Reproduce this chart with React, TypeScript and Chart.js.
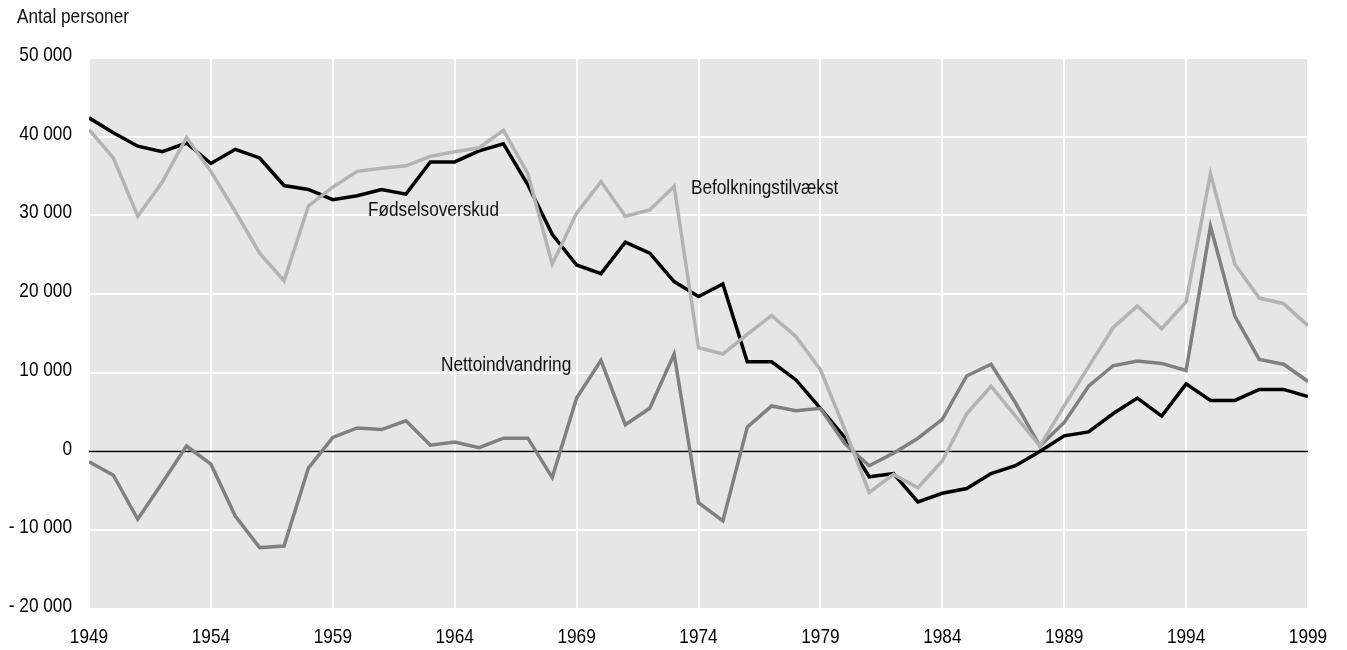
import React, { useEffect, useRef } from "react";
import { Chart, registerables } from "chart.js";

Chart.register(...registerables);

const years = [
  1949, 1950, 1951, 1952, 1953, 1954, 1955, 1956, 1957, 1958,
  1959, 1960, 1961, 1962, 1963, 1964, 1965, 1966, 1967, 1968,
  1969, 1970, 1971, 1972, 1973, 1974, 1975, 1976, 1977, 1978,
  1979, 1980, 1981, 1982, 1983, 1984, 1985, 1986, 1987, 1988,
  1989, 1990, 1991, 1992, 1993, 1994, 1995, 1996, 1997, 1998, 1999,
];

const fodselsoverskud = [
  42400, 40500, 38800, 38100, 39200, 36600, 38400, 37300, 33800, 33300,
  32000, 32500, 33300, 32700, 36800, 36800, 38200, 39100, 33900, 27600,
  23700, 22600, 26600, 25200, 21600, 19700, 21300, 11400, 11400, 9100,
  5500, 1800, -3200, -2800, -6400, -5300, -4700, -2800, -1800, 0,
  2000, 2500, 4800, 6800, 4500, 8600, 6500, 6500, 7900, 7900, 7000,
];

const befolkningstilvaekst = [
  40900, 37300, 29900, 34200, 39900, 35600, 30500, 25200, 21700, 31200,
  33600, 35600, 36000, 36300, 37500, 38100, 38600, 40800, 35300, 23800,
  30300, 34300, 29900, 30700, 33700, 13200, 12400, 14900, 17300, 14600,
  10400, 2800, -5200, -2900, -4600, -1200, 4800, 8300, 4500, 700,
  5800, 10800, 15700, 18500, 15600, 19000, 35300, 23800, 19500, 18800, 16000,
];

const nettoindvandring = [
  -1300, -3000, -8600, -4000, 700, -1600, -8200, -12200, -12000, -2100,
  1800, 3000, 2800, 3900, 800, 1200, 500, 1700, 1700, -3300,
  6800, 11600, 3400, 5500, 12400, -6500, -8800, 3100, 5800, 5200,
  5500, 1000, -1800, -200, 1700, 4100, 9600, 11100, 6200, 700,
  3700, 8300, 10900, 11500, 11200, 10300, 28600, 17200, 11700, 11100, 8900,
];

const yAxisTitle = "Antal personer";

const seriesLabels = [
  { text: "Fødselsoverskud", x: 1960.44, y: 29900 },
  { text: "Befolkningstilvækst", x: 1973.69, y: 32660 },
  { text: "Nettoindvandring", x: 1963.44, y: 10200 },
];

const FONT = "'Liberation Sans', Arial, sans-serif";
const FONT_SIZE = 21;
const SQUEEZE = 0.82;

function fmt(v: number): string {
  const s = Math.abs(v).toString().replace(/\B(?=(\d{3})+(?!\d))/g, " ");
  return v < 0 ? "- " + s : s;
}

function narrowText(ctx: CanvasRenderingContext2D, text: string, x: number, y: number, align: CanvasTextAlign) {
  ctx.save();
  ctx.translate(x, y);
  ctx.scale(SQUEEZE, 1);
  ctx.textAlign = align;
  ctx.textBaseline = "alphabetic";
  ctx.fillText(text, 0, 0);
  ctx.restore();
}

export default function App() {
  const ref = useRef<HTMLCanvasElement | null>(null);

  useEffect(() => {
    if (!ref.current) return;

    const bgPlugin = {
      id: "bg",
      beforeDraw(chart: any) {
        const { ctx, chartArea } = chart;
        ctx.save();
        ctx.fillStyle = "#e6e6e6";
        ctx.fillRect(chartArea.left, chartArea.top, chartArea.right - chartArea.left, chartArea.bottom - chartArea.top);
        ctx.restore();
      },
      beforeDatasetsDraw(chart: any) {
        const { ctx, chartArea, scales } = chart;
        const y0 = scales.y.getPixelForValue(0);
        ctx.save();
        ctx.strokeStyle = "#000";
        ctx.lineWidth = 1.5;
        ctx.beginPath();
        ctx.moveTo(chartArea.left, y0);
        ctx.lineTo(chartArea.right, y0);
        ctx.stroke();
        ctx.restore();
      },
      afterDatasetsDraw(chart: any) {
        const { ctx, scales, chartArea } = chart;
        ctx.save();
        ctx.fillStyle = "#111";
        ctx.font = `${FONT_SIZE}px ${FONT}`;
        for (const l of seriesLabels) {
          narrowText(ctx, l.text, scales.x.getPixelForValue(l.x), scales.y.getPixelForValue(l.y), "left");
        }
        narrowText(ctx, yAxisTitle, 17, 23, "left");
        ctx.fillStyle = "#000";
        for (const t of scales.y.ticks) {
          const py = scales.y.getPixelForValue(t.value);
          narrowText(ctx, fmt(t.value), chartArea.left - 17, py + 3, "right");
        }
        for (const t of scales.x.ticks) {
          const px = scales.x.getPixelForValue(t.value);
          narrowText(ctx, String(t.value), px, chartArea.bottom + 34, "center");
        }
        ctx.restore();
      },
    };

    const toPts = (arr: number[]) => arr.map((v, i) => ({ x: years[i], y: v }));

    const chart = new Chart(ref.current, {
      type: "line",
      data: {
        datasets: [
          {
            label: "Befolkningstilvækst",
            data: toPts(befolkningstilvaekst),
            borderColor: "#b3b3b3",
            borderWidth: 3.5,
            pointRadius: 0,
            tension: 0,
          },
          {
            label: "Nettoindvandring",
            data: toPts(nettoindvandring),
            borderColor: "#808080",
            borderWidth: 3.5,
            pointRadius: 0,
            tension: 0,
          },
          {
            label: "Fødselsoverskud",
            data: toPts(fodselsoverskud),
            borderColor: "#000000",
            borderWidth: 3.5,
            pointRadius: 0,
            tension: 0,
          },
        ],
      },
      options: {
        animation: false,
        responsive: false,
        maintainAspectRatio: false,
        layout: { padding: { left: 0, top: 58, right: 39, bottom: 0 } },
        plugins: {
          legend: { display: false },
          tooltip: { enabled: false },
          title: { display: false },
        },
        scales: {
          x: {
            type: "linear",
            min: 1949,
            max: 1999,
            border: { display: false },
            grid: { color: "#ffffff", lineWidth: 2, drawTicks: false },
            ticks: {
              stepSize: 5,
              display: false,
              callback: (v: any) => String(v),
            },
            afterFit: (s: any) => {
              s.height = 41;
            },
          },
          y: {
            min: -20000,
            max: 50000,
            border: { display: false },
            grid: { color: "#ffffff", lineWidth: 2, drawTicks: false },
            ticks: {
              stepSize: 10000,
              display: false,
              callback: (v: any) => fmt(Number(v)),
            },
            afterFit: (s: any) => {
              s.width = 89;
            },
          },
        },
      },
      plugins: [bgPlugin],
    });

    return () => chart.destroy();
  }, []);

  return (
    <div style={{ position: "absolute", left: 0, top: 0, width: 1347, height: 650, background: "#fff" }}>
      <canvas ref={ref} width={1347} height={650} style={{ display: "block" }} />
    </div>
  );
}
